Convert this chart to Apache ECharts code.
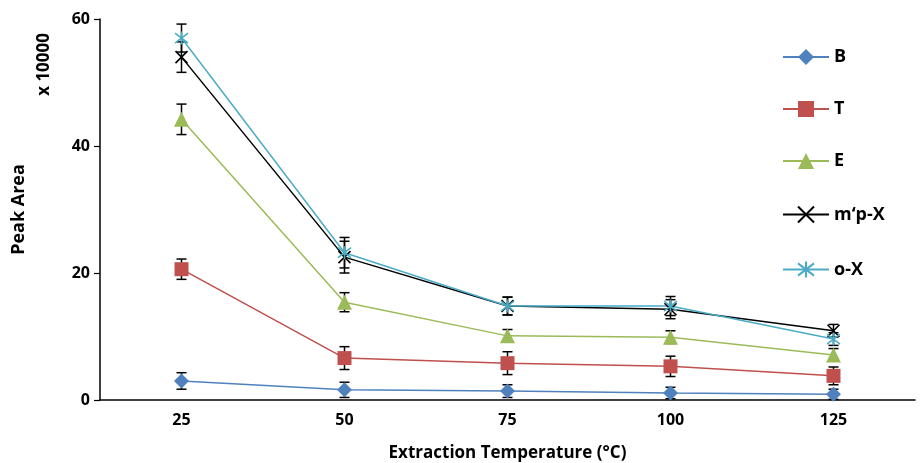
<!DOCTYPE html>
<html>
<head>
<meta charset="utf-8">
<script src="https://cdn.jsdelivr.net/npm/echarts@6/dist/echarts.min.js"></script>
<style>
  html, body { margin: 0; padding: 0; background: #fff; }
  #chart { width: 920px; height: 463px; }
</style>
</head>
<body>
<div id="chart"></div>
<script>
// temperatures (°C)
var temps = ["25", "50", "75", "100", "125"];
var yTicks = [0, 20, 40, 60];

// peak area (x 10000)
var B   = [3.0, 1.6, 1.4, 1.1, 0.9];
var T   = [20.6, 6.6, 5.8, 5.3, 3.8];
var E   = [44.2, 15.4, 10.1, 9.9, 7.1];
var MPX = [54.0, 22.5, 14.8, 14.3, 10.9];
var OX  = [57.0, 23.2, 14.8, 14.8, 9.6];

// error (+/-)
var errB   = [1.3, 1.2, 1.0, 0.9, 0.8];
var errT   = [1.6, 1.8, 1.8, 1.6, 1.4];
var errE   = [2.4, 1.5, 1.0, 1.0, 1.0];
var errMPX = [2.4, 2.5, 1.4, 1.5, 1.0];
var errOX  = [2.2, 2.4, 1.4, 1.5, 1.0];

var FONT = "'Open Sans', 'Liberation Sans', sans-serif";

var crossPath = "path://M0,0L10,10M10,0L0,10";
var starPath = "path://M0,0L10,10M10,0L0,10M5,-1.5L5,11.5";

function lineSeries(name, data, color, symbol, size, strokeOnly) {
  var s = {
    name: name,
    type: "line",
    data: data,
    symbol: symbol,
    symbolSize: size,
    z: 3,
    lineStyle: { color: color, width: 1.5 },
    itemStyle: { color: color }
  };
  if (strokeOnly) {
    s.itemStyle = { color: "none", borderColor: color, borderWidth: 1.6 };
  }
  return s;
}

function errSeries(vals, errs) {
  var d = [];
  for (var i = 0; i < vals.length; i++) {
    d.push([i, vals[i] - errs[i], vals[i] + errs[i]]);
  }
  return {
    type: "custom",
    z: 2,
    silent: true,
    data: d,
    renderItem: function (params, api) {
      var lo = api.coord([api.value(0), api.value(1)]);
      var hi = api.coord([api.value(0), api.value(2)]);
      var w = 5;
      var st = { stroke: "#000", lineWidth: 1.5 };
      return {
        type: "group",
        children: [
          { type: "line", shape: { x1: hi[0], y1: hi[1], x2: lo[0], y2: lo[1] }, style: st },
          { type: "line", shape: { x1: hi[0] - w, y1: hi[1], x2: hi[0] + w, y2: hi[1] }, style: st },
          { type: "line", shape: { x1: lo[0] - w, y1: lo[1], x2: lo[0] + w, y2: lo[1] }, style: st }
        ]
      };
    },
    encode: { x: 0, y: [1, 2] }
  };
}

var chart = echarts.init(document.getElementById("chart"));
chart.setOption({
  animation: false,
  backgroundColor: "#fff",
  grid: { left: 100, right: 5, top: 19, bottom: 63, outerBoundsMode: "none" },
  legend: {
    orient: "vertical",
    left: 777,
    top: 43,
    itemWidth: 46,
    itemHeight: 20,
    itemGap: 34,
    textStyle: { fontFamily: FONT, fontWeight: "bold", fontSize: 18, color: "#000" },
    data: ["B", "T", "E", "m\u2018p-X", "o-X"]
  },
  xAxis: {
    type: "category",
    data: temps,
    name: "Extraction Temperature (°C)",
    nameLocation: "middle",
    nameGap: 45,
    nameTextStyle: { fontFamily: FONT, fontWeight: "bold", fontSize: 17, color: "#000" },
    axisLine: { lineStyle: { color: "#000", width: 1.5 } },
    axisTick: { inside: true, length: 6, lineStyle: { color: "#000", width: 1.2 } },
    axisLabel: { fontFamily: FONT, fontWeight: "bold", fontSize: 16, color: "#000", margin: 12 },
    splitLine: { show: false }
  },
  yAxis: {
    type: "value",
    min: 0,
    max: 60,
    interval: 20,
    name: "Peak Area",
    nameLocation: "middle",
    nameGap: 72,
    nameTextStyle: { fontFamily: FONT, fontWeight: "bold", fontSize: 18, color: "#000" },
    axisLine: { show: true, lineStyle: { color: "#000", width: 1.5 } },
    axisTick: { show: true, length: 6, lineStyle: { color: "#000", width: 1.2 } },
    axisLabel: { fontFamily: FONT, fontWeight: "bold", fontSize: 16, color: "#000", margin: 10 },
    splitLine: { show: false }
  },
  graphic: [{
    type: "text",
    left: 36,
    top: 33,
    rotation: Math.PI / 2,
    style: { text: "x 10000", fontFamily: FONT, fontWeight: "bold", fontSize: 17, fill: "#000" }
  }],
  series: [
    lineSeries("B", B, "#4F81BD", "diamond", 15),
    lineSeries("T", T, "#C0504D", "rect", 14),
    lineSeries("E", E, "#9BBB59", "triangle", 15),
    lineSeries("m\u2018p-X", MPX, "#000000", crossPath, 12, true),
    lineSeries("o-X", OX, "#4BACC6", starPath, 13, true),
    errSeries(B, errB),
    errSeries(T, errT),
    errSeries(E, errE),
    errSeries(MPX, errMPX),
    errSeries(OX, errOX)
  ]
});
</script>
</body>
</html>
